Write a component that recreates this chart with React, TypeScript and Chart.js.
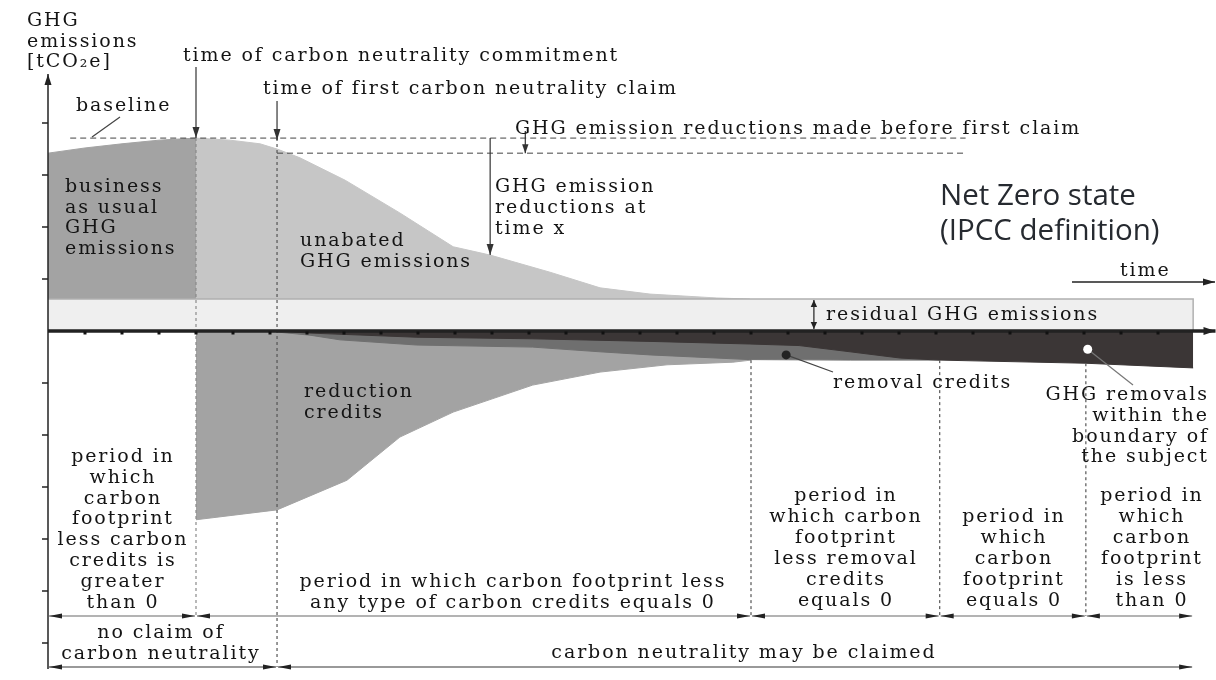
import React, { useEffect, useRef } from "react";
import { Chart, registerables } from "chart.js";

Chart.register(...registerables);

const W = 1216;
const H = 680;

// x: time steps (one axis dot per step); y: tCO2e (one axis tick per 10)
const bauTime = [0, 1, 2, 3, 4];
const bauValues = [34.2, 35.2, 36.0, 36.7, 37.1];

const unabatedTime = [4.0, 4.92, 5.73, 6.19, 6.81, 8.03, 9.51, 10.95, 11.95, 13.57, 14.92, 16.27, 18.08, 18.97];
const unabatedValues = [37.1, 36.7, 36.0, 35.0, 33.3, 29.0, 22.7, 16.2, 14.6, 11.3, 8.3, 7.1, 6.35, 6.15];

const residualLevel = 6.15;
const endTime = 30.95;
const residualTime = [0, endTime, endTime];
const residualValues = [residualLevel, residualLevel, 0];

const reductionTime = [4.0, 6.19, 8.08, 9.51, 10.95, 13.1, 14.92, 16.73, 18.51, 19.0];
const reductionValues = [-36.3, -34.4, -28.7, -20.4, -15.6, -10.4, -7.9, -6.5, -6.0, -5.6];

const removalCreditTime = [6.19, 7.08, 7.89, 9.97, 13.1, 14.92, 16.27, 18.97, 21.68, 24.1];
const removalCreditValues = [-0.2, -0.8, -1.7, -2.7, -3.1, -4.0, -4.6, -5.5, -5.6, -5.6];

const removalsWithinTime = [6.19, 7.08, 9.97, 13.1, 16.27, 18.97, 20.3, 21.68, 23.03, 24.1, 28.05, 30.95];
const removalsWithinValues = [0, -0.4, -1.2, -1.5, -2.0, -2.5, -2.8, -4.0, -5.2, -5.6, -6.2, -7.1];

const baselineLevel = 37.1;
const claimLevel = 34.2;
const tCommit = 4.0;
const tClaim = 6.19;
const tRemovalOnly = 19.0;
const tNetZero = 24.1;
const tNegative = 28.05;
const tTimeX = 11.95;
const yTickValues = [40, 30, 20, 10, -10, -20, -30, -40, -50, -60];
const xDotSteps = Array.from({ length: 30 }, (_, i) => i + 1);

const SERIF = '19px "DejaVu Serif"';
const SANS = '29.5px "Open Sans"';
const TXT = "#141414";
const SPACING = 1.9;

function interp(xs: number[], ys: number[], t: number) {
  for (let i = 0; i < xs.length - 1; i++) {
    if (t >= xs[i] && t <= xs[i + 1]) {
      const f = (t - xs[i]) / (xs[i + 1] - xs[i]);
      return ys[i] + f * (ys[i + 1] - ys[i]);
    }
  }
  return ys[ys.length - 1];
}

function head(ctx: any, x: number, y: number, a: number, len: number, w: number) {
  ctx.beginPath();
  ctx.moveTo(x, y);
  ctx.lineTo(x - len * Math.cos(a) + w * Math.sin(a), y - len * Math.sin(a) - w * Math.cos(a));
  ctx.lineTo(x - len * Math.cos(a) - w * Math.sin(a), y - len * Math.sin(a) + w * Math.cos(a));
  ctx.closePath();
  ctx.fill();
}

function arrow(ctx: any, x1: number, y1: number, x2: number, y2: number, o: any = {}) {
  const color = o.color || "#333";
  ctx.setLineDash([]);
  ctx.strokeStyle = color;
  ctx.lineWidth = o.lw || 1.2;
  ctx.beginPath();
  ctx.moveTo(x1, y1);
  ctx.lineTo(x2, y2);
  ctx.stroke();
  ctx.fillStyle = o.headColor || color;
  const a = Math.atan2(y2 - y1, x2 - x1);
  const len = o.len || 10;
  const w = o.w || 3;
  if (o.end !== false) head(ctx, x2, y2, a, len, w);
  if (o.start) head(ctx, x1, y1, a + Math.PI, len, w);
}

function dashed(ctx: any, x1: number, y1: number, x2: number, y2: number, dash: number[], color: string, lw = 1) {
  ctx.setLineDash(dash);
  ctx.strokeStyle = color;
  ctx.lineWidth = lw;
  ctx.beginPath();
  ctx.moveTo(x1, y1);
  ctx.lineTo(x2, y2);
  ctx.stroke();
  ctx.setLineDash([]);
}

function text(ctx: any, lines: string[], x: number, y: number, align = "left", lh = 20.8, font = SERIF, spacing = SPACING, color = TXT) {
  ctx.font = font;
  ctx.fillStyle = color;
  ctx.textAlign = align;
  ctx.textBaseline = "alphabetic";
  (ctx as any).letterSpacing = spacing + "px";
  const off = align === "center" ? spacing / 2 : align === "right" ? spacing : 0;
  lines.forEach((s, i) => ctx.fillText(s, x + off, y + i * lh));
  (ctx as any).letterSpacing = "0px";
}

const annotations = {
  id: "annotations",
  afterDatasetsDraw(chart: any) {
    const ctx = chart.ctx;
    const xs = chart.scales.x;
    const ys = chart.scales.y;
    const X = (v: number) => xs.getPixelForValue(v);
    const Y = (v: number) => ys.getPixelForValue(v);
    const x0 = X(0);
    const y0 = Y(0);
    const ROW1 = 616;
    const ROW2 = 667;
    ctx.save();

    // horizontal dashed guide lines
    dashed(ctx, X(0.6), Y(baselineLevel), X(24.8), Y(baselineLevel), [6, 4], "#444");
    dashed(ctx, X(tClaim), Y(claimLevel), X(24.8), Y(claimLevel), [6, 4], "#444");

    // vertical dashed event lines
    dashed(ctx, X(tCommit), Y(baselineLevel), X(tCommit), ROW1, [3, 3], "#8a8a8a", 1.2);
    dashed(ctx, X(tClaim), Y(baselineLevel), X(tClaim), ROW2, [3, 3], "#555", 1.2);
    dashed(ctx, X(tRemovalOnly), Y(reductionValues[reductionValues.length - 1]), X(tRemovalOnly), ROW1, [3, 3], "#555", 1.2);
    dashed(ctx, X(tNetZero), Y(removalCreditValues[removalCreditValues.length - 1]), X(tNetZero), ROW1, [3, 3], "#555", 1.2);
    dashed(ctx, X(tNegative), Y(interp(removalsWithinTime, removalsWithinValues, tNegative)), X(tNegative), ROW1, [3, 3], "#555", 1.2);

    // y axis
    arrow(ctx, x0, 669, x0, 74, { color: "#222", lw: 1.5, len: 11, w: 3.5 });
    ctx.strokeStyle = "#222";
    ctx.lineWidth = 1.5;
    yTickValues.forEach((v) => {
      ctx.beginPath();
      ctx.moveTo(x0 - 6, Y(v));
      ctx.lineTo(x0, Y(v));
      ctx.stroke();
    });

    // x axis
    arrow(ctx, x0, y0, X(31.5) + 2, y0, { color: "#222", lw: 3.5, len: 12, w: 4 });
    ctx.fillStyle = "#111";
    xDotSteps.forEach((k) => ctx.fillRect(X(k) - 1.5, y0 + 0.5, 3, 3));

    // event arrows
    arrow(ctx, X(tCommit), 67, X(tCommit), Y(baselineLevel), { color: "#333", lw: 1.2, len: 11, w: 3.5 });
    arrow(ctx, X(tClaim), 101, X(tClaim), Y(baselineLevel) + 2, { color: "#333", lw: 1.2, len: 11, w: 3.5 });
    arrow(ctx, X(tTimeX), Y(baselineLevel), X(tTimeX), Y(interp(unabatedTime, unabatedValues, tTimeX)), { color: "#333", lw: 1.2, len: 11, w: 3.5 });
    arrow(ctx, X(12.9), 131, X(12.9), Y(claimLevel), { color: "#333", lw: 1.2, len: 9, w: 3.2 });
    arrow(ctx, X(20.7), Y(residualLevel) + 1, X(20.7), y0 - 2, { color: "#222", lw: 1.2, len: 7, w: 3.2, start: true });
    arrow(ctx, 1072, 282, 1215, 282, { color: "#222", lw: 1.3, len: 12, w: 3.5 });

    // period rows
    const row1 = [0, tCommit, tRemovalOnly, tNetZero, tNegative, endTime];
    for (let i = 0; i < row1.length - 1; i++) {
      arrow(ctx, X(row1[i]) + 1, ROW1, X(row1[i + 1]) - 1, ROW1, { color: "#9a9a9a", headColor: "#222", lw: 1.3, len: 13, w: 2.6, start: true });
    }
    const row2 = [0, tClaim, endTime];
    for (let i = 0; i < row2.length - 1; i++) {
      arrow(ctx, X(row2[i]) + 1, ROW2, X(row2[i + 1]) - 1, ROW2, { color: "#777", headColor: "#222", lw: 1.3, len: 13, w: 2.6, start: true });
    }

    // leaders and markers
    ctx.strokeStyle = "#444";
    ctx.lineWidth = 1.2;
    ctx.beginPath();
    ctx.moveTo(120, 117);
    ctx.lineTo(92, 137);
    ctx.stroke();

    const rcx = X(19.95), rcy = Y(-4.6);
    ctx.beginPath();
    ctx.moveTo(rcx, rcy);
    ctx.lineTo(833, 372);
    ctx.stroke();
    ctx.fillStyle = "#222";
    ctx.beginPath();
    ctx.arc(rcx, rcy, 4.5, 0, Math.PI * 2);
    ctx.fill();

    const wx = X(28.1), wy = Y(-3.5);
    ctx.strokeStyle = "#777";
    ctx.beginPath();
    ctx.moveTo(wx, wy);
    ctx.lineTo(1133, 385);
    ctx.stroke();
    ctx.fillStyle = "#fff";
    ctx.beginPath();
    ctx.arc(wx, wy, 4.5, 0, Math.PI * 2);
    ctx.fill();

    // texts
    text(ctx, ["GHG", "emissions", "[tCO\u2082e]"], 27, 26, "left", 20.5);
    text(ctx, ["time of carbon neutrality commitment"], 183, 61);
    text(ctx, ["time of first carbon neutrality claim"], 263, 94);
    text(ctx, ["baseline"], 76, 111);
    text(ctx, ["GHG emission reductions made before first claim"], 515, 134);
    text(ctx, ["GHG emission", "reductions at", "time x"], 495, 192);
    text(ctx, ["business", "as usual", "GHG", "emissions"], 65, 192, "left", 20.7);
    text(ctx, ["unabated", "GHG emissions"], 300, 246);
    text(ctx, ["Net Zero state", "(IPCC definition)"], 940, 205, "left", 35, SANS, 0, "#262a30");
    text(ctx, ["time"], 1120, 276);
    text(ctx, ["residual GHG emissions"], 826, 320);
    text(ctx, ["removal credits"], 833, 388);
    text(ctx, ["GHG removals", "within the", "boundary of", "the subject"], 1207, 400, "right", 20.8);
    text(ctx, ["reduction", "credits"], 304, 397, "left", 20.5);
    text(ctx, ["period in", "which", "carbon", "footprint", "less carbon", "credits is", "greater", "than 0"], 122, 462, "center", 20.8);
    text(ctx, ["period in which carbon footprint less", "any type of carbon credits equals 0"], 512, 587, "center", 20.8);
    text(ctx, ["period in", "which carbon", "footprint", "less removal", "credits", "equals 0"], 845, 501, "center", 21);
    text(ctx, ["period in", "which", "carbon", "footprint", "equals 0"], 1013, 522, "center", 21);
    text(ctx, ["period in", "which", "carbon", "footprint", "is less", "than 0"], 1151, 501, "center", 21);
    text(ctx, ["no claim of", "carbon neutrality"], 160, 638, "center", 21);
    text(ctx, ["carbon neutrality may be claimed"], 743, 658, "center");

    ctx.restore();
  },
};

function ds(label: string, xs: number[], ys: number[], color: string, fill: any, order: number, extra: any = {}) {
  return {
    label,
    data: xs.map((x, i) => ({ x, y: ys[i] })),
    backgroundColor: color,
    borderColor: color,
    borderWidth: 1,
    pointRadius: 0,
    tension: 0,
    fill,
    order,
    ...extra,
  };
}

export default function App() {
  const ref = useRef<HTMLCanvasElement | null>(null);
  useEffect(() => {
    if (!ref.current) return;
    const chart = new Chart(ref.current, {
      type: "line",
      data: {
        datasets: [
          ds("GHG removals within the boundary of the subject", removalsWithinTime, removalsWithinValues, "#3b3636", "origin", 1),
          ds("removal credits", removalCreditTime, removalCreditValues, "#6f6f6f", "origin", 2),
          ds("reduction credits", reductionTime, reductionValues, "#a3a3a3", "origin", 3),
          ds("residual GHG emissions", residualTime, residualValues, "#efefef", "origin", 4, { borderColor: "#b0b0b0", borderWidth: 1.5 }),
          ds("unabated GHG emissions", unabatedTime, unabatedValues, "#c6c6c6", { value: residualLevel }, 5),
          ds("business as usual GHG emissions", bauTime, bauValues, "#a3a3a3", { value: residualLevel }, 6),
        ],
      } as any,
      options: {
        responsive: false,
        animation: false,
        events: [],
        layout: { padding: { left: 48, right: 2.5, top: 71, bottom: 11 } },
        plugins: {
          legend: { display: false },
          tooltip: { enabled: false },
        },
        scales: {
          x: { type: "linear", min: 0, max: 31.5, display: false },
          y: { type: "linear", min: -65, max: 50, display: false },
        },
      } as any,
      plugins: [annotations],
    });
    return () => chart.destroy();
  }, []);
  return (
    <div style={{ position: "fixed", left: 0, top: 0, width: W, height: H, background: "#fff" }}>
      <canvas ref={ref} width={W} height={H} style={{ width: W, height: H, display: "block" }} />
    </div>
  );
}
